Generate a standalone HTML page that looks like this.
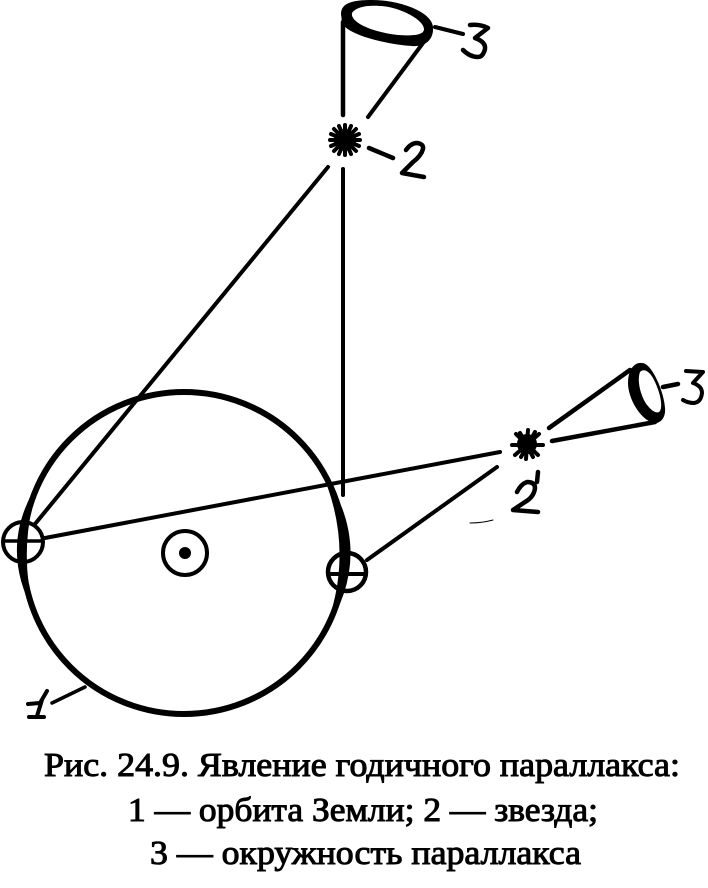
<!DOCTYPE html>
<html><head><meta charset="utf-8"><style>
html,body{margin:0;padding:0;background:#fff}
svg{display:block}
text{font-family:"Liberation Serif",serif;fill:#000}
</style></head><body>
<svg width="708" height="888" viewBox="0 0 708 888" xmlns="http://www.w3.org/2000/svg">
<rect width="708" height="888" fill="#fff"/>
<g fill="none" stroke="#000" stroke-linecap="round" stroke-linejoin="round">
<circle cx="184" cy="553" r="161" stroke-width="6"/>
<circle cx="185" cy="553" r="22" stroke-width="4"/>
<circle cx="185" cy="553" r="6" fill="#000" stroke="none"/>

<!-- sight lines -->
<path d="M35 524L328 167" stroke-width="4"/>
<path d="M368 117L423 43" stroke-width="4"/>
<path d="M343 169V495" stroke-width="4"/>
<path d="M343 115V22" stroke-width="4.5"/>
<path d="M45 538L500 452" stroke-width="4"/>
<path d="M367 560L497 467" stroke-width="4"/>
<path d="M549 428L630 370M552 441L655 422" stroke-width="4.5"/>

<!-- earth positions -->
<circle cx="23" cy="542" r="20" fill="#fff" stroke-width="4"/>
<path d="M4 541H42" stroke-width="3.5"/>
<circle cx="347" cy="572" r="19" fill="#fff" stroke-width="4.5"/>
<path d="M328 574H366" stroke-width="4"/>

<!-- labels -->
<path d="M435 27L463 34" stroke-width="4"/>
<path d="M470 25Q480 24 488 28L475 38Q486 42 485 49Q483 57 478 57Q470 57 463 50" stroke-width="4.5"/>
<path d="M369 148L393 158" stroke-width="4.5"/>
<path d="M406 150Q411 143 417 143Q424 144 423 149Q421 156 413 162L402 173L424 177" stroke-width="4.5"/>
<path d="M663 387L678 384" stroke-width="4.5"/>
<path d="M686 371L703 372L693 383Q702 386 702 393Q701 402 694 403Q688 403 683 400" stroke-width="4"/>
<path d="M517 492Q521 484 527 482Q535 482 535 488Q534 497 525 502L513 510L538 512M538 472L537 482" stroke-width="4.5"/>
<path d="M52 703L85 687" stroke-width="3.5"/>
<path d="M28 704L40 703L47 691M42 700L37 716M29 717H44" stroke-width="4"/>
<path d="M470 523Q482 523 493 520" stroke-width="1"/>

<!-- stars -->
<g stroke-width="4">
<circle cx="345" cy="140" r="11" fill="#000" stroke="none"/>
<path d="M345 125V155M330 140H360M334 129L356 151M356 129L334 151M339 126L351 154M351 126L339 154M331 134L359 146M359 134L331 146"/>
<circle cx="527" cy="444" r="10" fill="#000" stroke="none"/>
<path d="M528 430L526 459M512 445H543M516 434L538 455M539 434L515 455M520 433L533 457M535 432L521 457"/>
</g>
</g>

<!-- thickened orbit at the earth positions -->
<path fill="#000" d="M40 480Q-3 545 34 612Q17 545 40 480Z"/>
<path fill="#000" d="M319 466Q380 550 323 635Q358 550 319 466Z"/>

<!-- parallax ellipses -->
<path fill="#000" fill-rule="evenodd" d="M341 14C341 2 355 0 372 0C400 0 432 12 433 27C434 40 425 47 412 46C390 45 345 35 342 22Z M352 13C356 7 367 5 380 6C400 7 424 20 424 29C424 35 414 36 398 35C378 33 350 24 352 13Z"/>
<path fill="#000" fill-rule="evenodd" d="M628 383C628 370 634 362 642 363C652 363 664 392 665 408C666 418 660 424 654 423C640 420 628 398 628 383Z M640 372C644 368 650 371 655 382C660 393 663 405 660 411C657 415 650 410 645 402C640 393 637 380 640 372Z"/>

<g font-size="34" stroke="#000" stroke-width="1">
<text x="44" y="776" textLength="636" lengthAdjust="spacingAndGlyphs">Рис. 24.9. Явление годичного параллакса:</text>
<text x="128" y="821" textLength="470" lengthAdjust="spacingAndGlyphs">1 — орбита Земли; 2 — звезда;</text>
<text x="150" y="864" textLength="431" lengthAdjust="spacingAndGlyphs">3 — окружность параллакса</text>
</g>
</svg>
</body></html>
